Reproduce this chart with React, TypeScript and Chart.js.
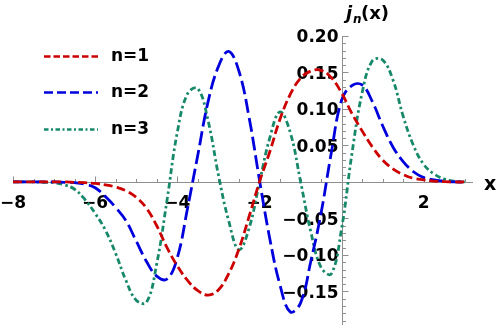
import React, { useEffect, useRef } from "react";
import { Chart, registerables } from "chart.js";

Chart.register(...registerables);

const xs = [
  -8, -7.75, -7.5, -7.25, -7, -6.75, -6.5, -6.25, -6, -5.75, -5.5, -5.25, -5,
  -4.75, -4.5, -4.25, -4, -3.75, -3.5, -3.25, -3, -2.75, -2.5, -2.25, -2,
  -1.75, -1.5, -1.25, -1, -0.75, -0.5, -0.25, 0, 0.25, 0.5, 0.75, 1, 1.25,
  1.5, 1.75, 2, 2.25, 2.5, 2.75, 3,
];

const n1 = [
  0, 0, 0, 0, 0, 0, -0.0005, -0.001, -0.002, -0.004, -0.007, -0.012, -0.021,
  -0.036, -0.06, -0.09, -0.115, -0.135, -0.149, -0.155, -0.148, -0.126,
  -0.092, -0.047, 0, 0.041, 0.086, 0.12, 0.142, 0.152, 0.153, 0.143, 0.122,
  0.094, 0.07, 0.048, 0.03, 0.018, 0.01, 0.005, 0.003, 0.001, 0.0005, 0, 0,
];

const n2 = [
  0, 0, 0, 0, 0, -0.0005, -0.001, -0.003, -0.008, -0.02, -0.035, -0.053,
  -0.081, -0.109, -0.129, -0.133, -0.104, -0.036, 0.037, 0.11, 0.158, 0.179,
  0.152, 0.088, 0.003, -0.077, -0.141, -0.178, -0.166, -0.109, -0.043, 0.04,
  0.112, 0.132, 0.133, 0.11, 0.077, 0.048, 0.028, 0.014, 0.006, 0.003, 0.001,
  0, 0,
];

const n3 = [
  0, 0, 0, -0.0005, -0.001, -0.004, -0.01, -0.024, -0.043, -0.066, -0.098,
  -0.135, -0.162, -0.165, -0.112, -0.025, 0.068, 0.121, 0.128, 0.084, 0.01,
  -0.053, -0.093, -0.063, -0.001, 0.06, 0.096, 0.068, 0.001, -0.068, -0.117,
  -0.126, -0.064, 0.038, 0.122, 0.166, 0.167, 0.14, 0.09, 0.05, 0.024, 0.011,
  0.004, 0.001, 0,
];

const seriesLabels = ["n=1", "n=2", "n=3"];
const xTickValues = [-8, -6, -4, -2, 2];
const xTickLabels = ["\u22128", "\u22126", "\u22124", "\u22122", "2"];
const yTickValues = [-0.15, -0.1, -0.05, 0.05, 0.1, 0.15, 0.2];
const yTickLabels = ["\u22120.15", "\u22120.10", "\u22120.05", "0.05", "0.10", "0.15", "0.20"];

const COLORS = ["#cc0000", "#0000dd", "#17896a"];
const PLOT_DASH = [[9, 4], [14, 5], [6, 3, 2.5, 3]];
const LEGEND_DASH = [[6.5, 3], [9, 4], [4.5, 2.5, 2, 2.5]];
const AXIS_COLOR = "#8f8f8f";
const FONT = "'DejaVu Sans', sans-serif";

const axesPlugin = {
  id: "mathAxes",
  beforeDatasetsDraw(chart: any) {
    const { ctx } = chart;
    const xs_ = chart.scales.x;
    const ys_ = chart.scales.y;
    const x0 = Math.round(xs_.getPixelForValue(0)) + 0.5;
    const y0 = Math.round(ys_.getPixelForValue(0)) + 0.5;
    ctx.save();
    ctx.strokeStyle = AXIS_COLOR;
    ctx.lineWidth = 1;
    ctx.setLineDash([]);
    ctx.beginPath();
    ctx.moveTo(xs_.left, y0);
    ctx.lineTo(xs_.right, y0);
    ctx.moveTo(x0, ys_.top);
    ctx.lineTo(x0, ys_.bottom);
    // x ticks (upwards)
    for (let k = -16; k <= 6; k++) {
      const v = k / 2;
      if (v === 0) continue;
      const px = Math.round(xs_.getPixelForValue(v)) + 0.5;
      const len = k % 4 === 0 ? 6 : 3.5;
      ctx.moveTo(px, y0);
      ctx.lineTo(px, y0 - len);
    }
    // y ticks (to the right)
    for (let k = -19; k <= 20; k++) {
      if (k === 0) continue;
      const py = Math.round(ys_.getPixelForValue(k / 100)) + 0.5;
      const len = k % 5 === 0 ? 6 : 3.5;
      ctx.moveTo(x0, py);
      ctx.lineTo(x0 + len, py);
    }
    ctx.stroke();

    ctx.fillStyle = "#000";
    ctx.font = `bold 17px ${FONT}`;
    ctx.textBaseline = "middle";
    ctx.textAlign = "center";
    xTickValues.forEach((v, i) => {
      ctx.fillText(xTickLabels[i], xs_.getPixelForValue(v), y0 + 21);
    });
    ctx.textAlign = "right";
    yTickValues.forEach((v, i) => {
      ctx.fillText(yTickLabels[i], x0 - 4, ys_.getPixelForValue(v) + 2);
    });
    // axis labels
    ctx.textAlign = "left";
    ctx.font = `bold 19px ${FONT}`;
    ctx.fillText("x", 484, y0 + 3);
    ctx.textBaseline = "alphabetic";
    ctx.font = `italic bold 18px ${FONT}`;
    ctx.fillText("j", 346, 19);
    ctx.font = `italic bold 12px ${FONT}`;
    ctx.fillText("n", 353, 23);
    ctx.font = `bold 18px ${FONT}`;
    ctx.fillText("(x)", 361, 19);
    ctx.restore();
  },
  afterDraw(chart: any) {
    const { ctx } = chart;
    ctx.save();
    const rows = [56, 92, 129];
    chart.data.datasets.forEach((ds: any, i: number) => {
      ctx.strokeStyle = ds.borderColor;
      ctx.lineWidth = 2.6;
      ctx.lineCap = "butt";
      ctx.setLineDash(LEGEND_DASH[i]);
      ctx.beginPath();
      ctx.moveTo(44, rows[i] + 0.5);
      ctx.lineTo(98, rows[i] + 0.5);
      ctx.stroke();
      ctx.setLineDash([]);
      ctx.fillStyle = "#000";
      ctx.font = `bold 17px ${FONT}`;
      ctx.textAlign = "left";
      ctx.textBaseline = "middle";
      ctx.fillText(ds.label, 111, rows[i] + 1);
    });
    ctx.restore();
  },
};

export default function App() {
  const ref = useRef<HTMLCanvasElement>(null);
  useEffect(() => {
    if (!ref.current) return;
    const seriesValues = [n1, n2, n3];
    const chart = new Chart(ref.current, {
      type: "line",
      data: {
        datasets: seriesValues.map((vals, i) => ({
          label: seriesLabels[i],
          data: xs.map((x, j) => ({ x, y: vals[j] })),
          borderColor: COLORS[i],
          borderWidth: 2.8,
          borderDash: PLOT_DASH[i],
          borderCapStyle: "butt" as const,
          pointRadius: 0,
          tension: 0.4,
          fill: false,
        })),
      },
      options: {
        animation: false,
        responsive: false,
        maintainAspectRatio: false,
        layout: { padding: { left: 13, right: 25, top: 36, bottom: 3 } },
        scales: {
          x: { type: "linear", min: -8, max: 3.2, display: false },
          y: { type: "linear", min: -0.196, max: 0.2, display: false },
        },
        plugins: { legend: { display: false }, tooltip: { enabled: false } },
      },
      plugins: [axesPlugin],
    });
    return () => chart.destroy();
  }, []);
  return (
    <div style={{ position: "fixed", left: 0, top: 0, width: 498, height: 328, background: "#fff" }}>
      <canvas ref={ref} width={498} height={328} style={{ display: "block" }} />
    </div>
  );
}
